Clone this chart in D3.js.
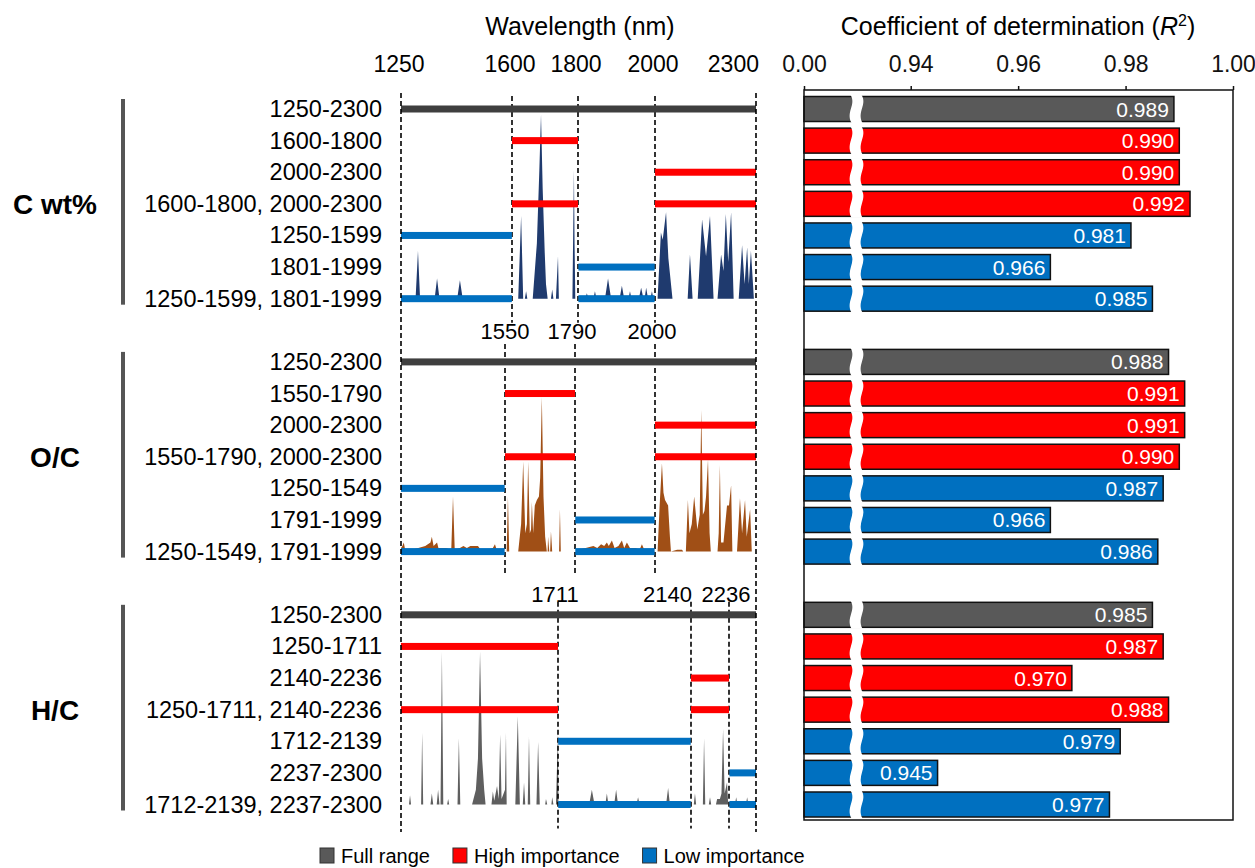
<!DOCTYPE html>
<html>
<head>
<meta charset="utf-8">
<script src="https://cdn.jsdelivr.net/npm/d3@7"></script>
<style>
  body { margin: 0; background: #fff; }
  text { font-family: "Liberation Sans", Arial, sans-serif; }
</style>
</head>
<body>
<svg id="contenedor"></svg>
<script>
// nombres de grupos
let grupos = ["C wt%", "O/C", "H/C"];

// rangos de cada fila y su R2
let rangosC = ["1250-2300", "1600-1800", "2000-2300", "1600-1800, 2000-2300", "1250-1599", "1801-1999", "1250-1599, 1801-1999"];
let r2C = [0.989, 0.990, 0.990, 0.992, 0.981, 0.966, 0.985];
let rangosOC = ["1250-2300", "1550-1790", "2000-2300", "1550-1790, 2000-2300", "1250-1549", "1791-1999", "1250-1549, 1791-1999"];
let r2OC = [0.988, 0.991, 0.991, 0.990, 0.987, 0.966, 0.986];
let rangosHC = ["1250-2300", "1250-1711", "2140-2236", "1250-1711, 2140-2236", "1712-2139", "2237-2300", "1712-2139, 2237-2300"];
let r2HC = [0.985, 0.987, 0.970, 0.988, 0.979, 0.945, 0.977];

// tipo de cada fila (igual en los tres grupos)
let tipos = ["full", "high", "high", "high", "low", "low", "low"];

// cortes de longitud de onda por grupo
let cortesC = [1600, 1800, 2000];
let cortesOC = [1550, 1790, 2000];
let cortesHC = [1711, 2140, 2236];

// etiquetas de ejes
let ticksOnda = [1250, 1600, 1800, 2000, 2300];
let ticksR2 = [0.00, 0.94, 0.96, 0.98, 1.00];
let leyenda = ["Full range", "High importance", "Low importance"];

// importancia de variables [longitud de onda, importancia relativa]
let espectroC = [
  [1250, 0], [1292, 0], [1299, 26], [1305, 0], [1347, 0], [1354, 11], [1361, 0],
  [1412, 0], [1420, 10], [1428, 0], [1469, 0], [1472, 1], [1475, 0], [1512, 0], [1515, 1], [1518, 0],
  [1532, 0], [1535, 1], [1538, 0], [1615, 0], [1622, 45], [1627, 0], [1631, 0], [1634, 4], [1637, 0],
  [1650, 0], [1660, 30], [1666, 70], [1670, 100], [1674, 60], [1679, 25], [1682, 8], [1686, 0],
  [1694, 0], [1697, 5], [1700, 0], [1706, 0], [1711, 23], [1715, 0], [1778, 0], [1785, 70], [1788, 30], [1791, 0],
  [1819, 0], [1823, 3], [1827, 0], [1840, 0], [1844, 4], [1848, 0], [1870, 0], [1878, 11], [1886, 0],
  [1908, 0], [1914, 7], [1920, 0], [1931, 0], [1935, 4], [1939, 0], [1958, 0], [1964, 6], [1970, 0],
  [1973, 0], [1977, 6], [1982, 0], [1988, 0], [1992, 4], [1996, 0],
  [2010, 0], [2023, 36], [2030, 32], [2043, 47], [2052, 22], [2068, 0],
  [2127, 0], [2136, 24], [2144, 0], [2157, 0], [2168, 43], [2178, 23], [2188, 45], [2197, 0],
  [2207, 0], [2216, 24], [2222, 15], [2228, 46], [2234, 20], [2241, 47], [2247, 0],
  [2259, 0], [2267, 29], [2273, 8], [2279, 28], [2283, 8], [2288, 26], [2295, 0], [2300, 0]
];
let espectroOC = [
  [1250, 2], [1254, 3], [1258, 5], [1262, 1], [1280, 1], [1300, 2], [1320, 3], [1335, 5], [1339, 8],
  [1344, 3], [1354, 5], [1358, 2], [1380, 2], [1395, 1], [1400, 30], [1405, 1], [1420, 2], [1430, 3],
  [1440, 2], [1450, 3], [1463, 3], [1472, 3], [1480, 1], [1500, 1], [1515, 2], [1521, 4], [1526, 1],
  [1545, 0], [1562, 0], [1571, 30], [1580, 0], [1615, 0], [1622, 15], [1627, 49], [1632, 10],
  [1636, 15], [1639, 49], [1643, 10], [1646, 12], [1648, 27], [1651, 10], [1655, 25], [1660, 28],
  [1665, 30], [1668, 40], [1672, 84], [1676, 30], [1680, 8], [1684, 0], [1686, 0], [1687, 8], [1690, 0],
  [1692, 0], [1694, 11], [1697, 0], [1716, 0], [1720, 23], [1724, 0],
  [1795, 0], [1800, 1], [1820, 2], [1840, 3], [1850, 2], [1860, 4], [1868, 3], [1875, 5], [1880, 3],
  [1888, 6], [1895, 2], [1905, 3], [1914, 6], [1920, 2], [1927, 5], [1935, 2], [1950, 2], [1960, 1],
  [1966, 4], [1972, 1], [1990, 1], [2000, 0],
  [2010, 0], [2018, 25], [2027, 48], [2033, 32], [2039, 28], [2051, 25], [2058, 8], [2062, 0],
  [2086, 1], [2105, 1], [2110, 0], [2120, 0], [2128, 28], [2134, 10], [2142, 15], [2148, 30],
  [2156, 12], [2162, 20], [2166, 77], [2170, 20], [2174, 22], [2178, 30], [2183, 50], [2187, 10], [2190, 0],
  [2207, 0], [2210, 10], [2213, 47], [2216, 5], [2222, 5], [2231, 25], [2236, 25], [2241, 36], [2244, 0],
  [2255, 0], [2262, 29], [2267, 10], [2274, 28], [2278, 8], [2286, 23], [2290, 0], [2300, 0]
];
let espectroHC = [
  [1250, 0], [1273, 0], [1276, 5], [1279, 0], [1308, 0], [1311, 39], [1314, 0], [1335, 0], [1339, 6], [1343, 0],
  [1353, 0], [1357, 8], [1361, 0], [1364, 0], [1368, 83], [1372, 0], [1383, 0], [1386, 3], [1389, 0],
  [1413, 0], [1417, 36], [1421, 0], [1455, 0], [1466, 8], [1472, 25], [1478, 83], [1484, 25], [1490, 8], [1494, 0],
  [1511, 0], [1515, 7], [1519, 2], [1527, 10], [1532, 3], [1536, 38], [1540, 3], [1550, 8], [1557, 39], [1562, 0],
  [1608, 0], [1614, 48], [1619, 0], [1626, 0], [1629, 12], [1632, 0], [1638, 0], [1641, 37], [1644, 0],
  [1659, 0], [1663, 34], [1667, 0], [1680, 0], [1682, 3], [1685, 0], [1695, 0], [1697, 4], [1700, 0],
  [1706, 0], [1711, 39], [1713, 0], [1829, 0], [1836, 8], [1843, 0], [1871, 0], [1875, 6], [1879, 0],
  [1894, 0], [1899, 8], [1904, 0], [1923, 0], [1925, 1], [1927, 0], [1952, 0], [1956, 4], [1960, 0],
  [1985, 0], [1988, 1], [1991, 0], [2043, 0], [2051, 9], [2058, 0], [2147, 0], [2150, 6], [2153, 0],
  [2170, 0], [2173, 36], [2176, 0], [2185, 0], [2188, 4], [2191, 0], [2203, 0], [2206, 3], [2213, 3],
  [2217, 6], [2221, 41], [2225, 6], [2231, 12], [2234, 0], [2250, 0], [2253, 4], [2256, 0],
  [2264, 0], [2266, 2], [2268, 0], [2276, 0], [2279, 4], [2282, 0], [2300, 0]
];

// colores
let colorBarra = { full: "#595959", high: "#ff0000", low: "#0070c0" };
let colorLinea = { full: "#3f3f3f", high: "#ff0000", low: "#0070c0" };
let colorEspectro = ["#1f3a6e", "#a04f16", "#5f5f5f"];

// configuracion del contenedor
function getConfig() {
  let width = 1255;
  let height = 868;
  let container = d3.select("#contenedor").attr("width", width).attr("height", height);
  return { width, height, container };
}

// escalas
function getEscalas() {
  // el eje de longitud de onda del original no es lineal del todo
  let xOnda = d3.scaleLinear()
    .domain([1250, 1550, 1600, 1711, 1790, 1800, 2000, 2140, 2236, 2300])
    .range([401, 505, 512, 558, 575, 578, 655, 691, 729, 756]);
  // eje de R2 con corte entre 0 y 0.93
  let xR2 = d3.scaleLinear().domain([0, 0.93, 1.0]).range([804, 857, 1233]);
  // 7 filas + 1 hueco por grupo
  let yFila = d3.scalePoint().domain(d3.range(23)).range([109, 804.5]);
  let hImp = d3.scaleLinear().domain([0, 100]).range([0, 184]);
  return { xOnda, xR2, yFila, hImp };
}

function parseRangos(etiqueta) {
  return etiqueta.split(", ").map((r) => r.split("-").map(Number));
}

function dibujarTitulos(config, escalas) {
  let { container } = config;
  let { xOnda } = escalas;
  container.append("text")
    .attr("x", 580).attr("y", 35)
    .attr("text-anchor", "middle").attr("font-size", "25px")
    .text("Wavelength (nm)");

  let t = container.append("text")
    .attr("x", 1018).attr("y", 35)
    .attr("text-anchor", "middle").attr("font-size", "25px");
  t.append("tspan").text("Coefficient of determination (");
  t.append("tspan").attr("font-style", "italic").text("R");
  t.append("tspan").attr("font-size", "16px").attr("dy", "-9").text("2");
  t.append("tspan").attr("dy", "9").text(")");

  // etiquetas de longitud de onda arriba
  container.append("g").selectAll("text").data(ticksOnda).enter()
    .append("text")
    .attr("x", (d) => d === 2300 ? xOnda(d) + 3 : xOnda(d) - 2)
    .attr("y", 72)
    .attr("text-anchor", (d) => d === 2300 ? "end" : "middle")
    .attr("font-size", "23px")
    .text((d) => d);
}

function dibujarGrupo(g, rangos, r2, cortes, espectro, config, escalas) {
  let { container } = config;
  let { xOnda, xR2, yFila, hImp } = escalas;
  let filas = rangos.map((r, i) => ({ etiqueta: r, r2: r2[i], tipo: tipos[i], y: yFila(g * 8 + i) }));
  let yIni = filas[0].y;
  let yFin = filas[filas.length - 1].y;

  // nombre del grupo y corchete
  container.append("text")
    .attr("x", 55).attr("y", filas[3].y + 10)
    .attr("text-anchor", "middle").attr("font-size", "28px").attr("font-weight", "bold")
    .text(grupos[g]);
  container.append("line")
    .attr("x1", 123).attr("x2", 123)
    .attr("y1", yIni - 10).attr("y2", yFin + 6)
    .attr("stroke", "#555").attr("stroke-width", 4);

  // etiquetas de filas
  container.append("g").selectAll("text").data(filas).enter()
    .append("text")
    .attr("x", 382).attr("y", (d) => d.y + 8)
    .attr("text-anchor", "end").attr("font-size", "23.5px")
    .text((d) => d.etiqueta);

  // espectro de importancia
  let area = d3.area()
    .x((d) => xOnda(d[0]))
    .y0(yFin)
    .y1((d) => yFin - hImp(d[1]));
  container.append("path")
    .datum(espectro)
    .attr("d", area)
    .attr("fill", colorEspectro[g]);

  // lineas de corte
  container.append("g").selectAll("line").data(cortes).enter()
    .append("line")
    .attr("x1", (d) => xOnda(d)).attr("x2", (d) => xOnda(d))
    .attr("y1", yIni - (g === 1 ? 18 : 13)).attr("y2", yFin + 24)
    .attr("stroke", "#000").attr("stroke-width", 1.6).attr("stroke-dasharray", "5,3");

  if (g > 0) {
    let dy = g === 1 ? 23 : 13;
    container.append("g").selectAll("text").data(cortes).enter()
      .append("text")
      .attr("x", (d) => d === 2140 ? xOnda(d) + 1 : xOnda(d) - (d === 1550 ? 0 : 3))
      .attr("y", yIni - dy)
      .attr("text-anchor", (d) => d === 2140 ? "end" : "middle")
      .attr("font-size", "22px")
      .text((d) => d);
  }

  // barras de rango (izquierda)
  let segmentos = [];
  filas.forEach((f) => parseRangos(f.etiqueta).forEach((r) => segmentos.push({ y: f.y, ini: r[0], fin: r[1], tipo: f.tipo })));
  container.append("g").selectAll("rect").data(segmentos).enter()
    .append("rect")
    .attr("x", (d) => xOnda(d.ini))
    .attr("width", (d) => xOnda(d.fin) - xOnda(d.ini))
    .attr("y", (d) => d.y - 3.5)
    .attr("height", 7)
    .attr("fill", (d) => colorLinea[d.tipo]);

  // barras de R2 (derecha)
  let barras = container.append("g");
  barras.selectAll("rect").data(filas).enter()
    .append("rect")
    .attr("x", xR2(0))
    .attr("y", (d) => d.y - 12.5)
    .attr("width", (d) => xR2(d.r2) - xR2(0))
    .attr("height", 25)
    .attr("fill", (d) => colorBarra[d.tipo])
    .attr("stroke", "#111").attr("stroke-width", 1.5);

  // corte ondulado
  let xc = xR2(0.922);
  barras.selectAll("path").data(filas).enter()
    .append("path")
    .attr("d", (d) => {
      let t = d.y - 14, b = d.y + 14, h = b - t, a = xc - 6;
      return `M${a},${t} C${a + 6},${t + h * 0.35} ${a - 5},${t + h * 0.6} ${a + 1},${b}` +
        ` L${a + 12},${b} C${a + 6},${t + h * 0.6} ${a + 17},${t + h * 0.35} ${a + 11},${t} Z`;
    })
    .attr("fill", "#fff");

  barras.selectAll("text").data(filas).enter()
    .append("text")
    .attr("x", (d) => xR2(d.r2) - 5)
    .attr("y", (d) => d.y + 7.5)
    .attr("text-anchor", "end").attr("font-size", "21px").attr("fill", "#fff")
    .text((d) => d.r2.toFixed(3));
}

function dibujarEjeR2(config, escalas) {
  let { container } = config;
  let { xR2, yFila } = escalas;
  let yTop = 90;
  let yBot = yFila(22) + 15.5;
  container.append("rect")
    .attr("x", xR2(0)).attr("y", yTop)
    .attr("width", xR2(1) - xR2(0)).attr("height", yBot - yTop)
    .attr("fill", "none").attr("stroke", "#111").attr("stroke-width", 1.5);

  let eje = d3.axisTop(xR2).tickValues(ticksR2).tickFormat(d3.format(".2f"))
    .tickSize(4).tickSizeOuter(0).tickPadding(14);
  let g = container.append("g").attr("transform", `translate(0,${yTop})`).call(eje);
  g.select(".domain").remove();
  g.selectAll("line").attr("stroke", "#111").attr("stroke-width", 1.5);
  g.selectAll("text").attr("font-size", "23px").attr("fill", "#111")
    .style("font-family", "'Liberation Sans', Arial, sans-serif");
}

function dibujarBordesOnda(config, escalas) {
  let { container } = config;
  let { xOnda } = escalas;
  container.append("g").selectAll("line").data([1250, 2300]).enter()
    .append("line")
    .attr("x1", (d) => xOnda(d)).attr("x2", (d) => xOnda(d))
    .attr("y1", 93).attr("y2", 832)
    .attr("stroke", "#000").attr("stroke-width", 1.6).attr("stroke-dasharray", "5,3");
}

function dibujarLeyenda(config) {
  let { container } = config;
  let x = 320;
  let colores = [colorBarra.full, colorBarra.high, colorBarra.low];
  leyenda.forEach((nombre, i) => {
    container.append("rect")
      .attr("x", x).attr("y", 848).attr("width", 14).attr("height", 15)
      .attr("fill", colores[i]).attr("stroke", "#333").attr("stroke-width", 1);
    let t = container.append("text")
      .attr("x", x + 21).attr("y", 863)
      .attr("font-size", "20px")
      .text(nombre);
    x = x + 21 + t.node().getComputedTextLength() + 23;
  });
}

function dibujarChart() {
  let config = getConfig();
  let escalas = getEscalas();
  dibujarTitulos(config, escalas);
  dibujarGrupo(0, rangosC, r2C, cortesC, espectroC, config, escalas);
  dibujarGrupo(1, rangosOC, r2OC, cortesOC, espectroOC, config, escalas);
  dibujarGrupo(2, rangosHC, r2HC, cortesHC, espectroHC, config, escalas);
  dibujarBordesOnda(config, escalas);
  dibujarEjeR2(config, escalas);
  dibujarLeyenda(config);
}

dibujarChart();
</script>
</body>
</html>
